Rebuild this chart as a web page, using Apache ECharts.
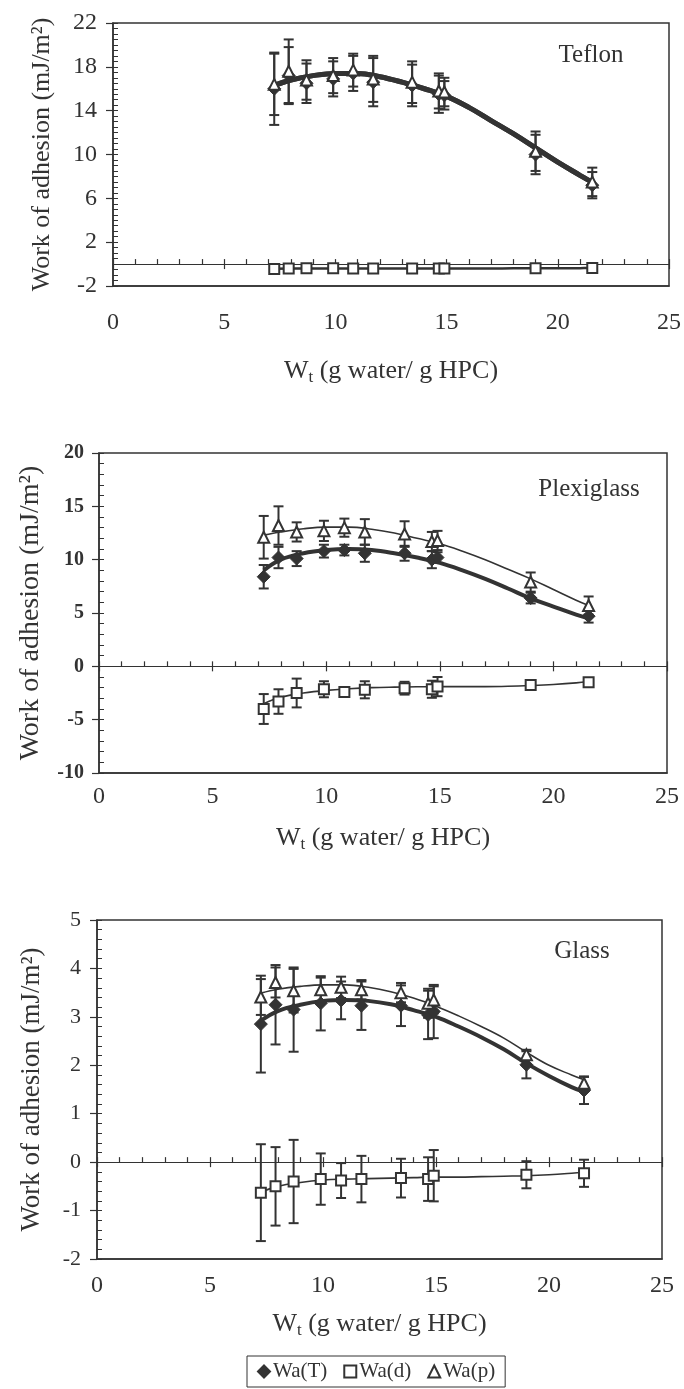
<!DOCTYPE html>
<html><head><meta charset="utf-8">
<script src="https://cdn.jsdelivr.net/npm/echarts@6/dist/echarts.min.js"></script>
<style>html,body{margin:0;padding:0;background:#fff}#c{width:684px;height:1389px}</style>
</head><body><div id="c"></div>
<script>
// ---- data ----
const wt = [7.25, 7.9, 8.7, 9.9, 10.8, 11.7, 13.45, 14.65, 14.9, 19.0, 21.55];
const fitX = [7.25, 8, 9, 10, 11, 12, 13, 14, 15, 16, 17, 18, 19, 20, 21, 21.55];
const xTicks = [0, 5, 10, 15, 20, 25];

// Teflon
const teflonT    = [16.0, 17.2, 16.5, 16.9, 17.4, 16.6, 16.3, 15.5, 15.4, 10.0, 7.2];
const teflonTErr = [3.3, 2.6, 1.8, 1.6, 1.6, 2.2, 1.9, 1.7, 1.3, 1.8, 1.2];
const teflonD    = [-0.45, -0.4, -0.38, -0.38, -0.4, -0.4, -0.4, -0.4, -0.4, -0.38, -0.35];
const teflonDErr = [0.15, 0.1, 0.1, 0.1, 0.1, 0.1, 0.1, 0.1, 0.1, 0.1, 0.1];
const teflonP    = [16.4, 17.6, 16.8, 17.2, 17.7, 16.9, 16.6, 15.8, 15.7, 10.3, 7.5];
const teflonPErr = [2.8, 2.9, 1.8, 1.6, 1.5, 2.1, 1.9, 1.6, 1.3, 1.8, 1.3];
const teflonFitT = [16.3, 16.8, 17.2, 17.4, 17.4, 17.1, 16.6, 16.0, 15.3, 14.3, 13.1, 11.9, 10.6, 9.3, 8.1, 7.45];
const teflonFitP = [16.3, 16.8, 17.2, 17.4, 17.4, 17.1, 16.6, 16.0, 15.3, 14.3, 13.1, 11.9, 10.6, 9.3, 8.1, 7.45];
const teflonFitD = [-0.42, -0.4, -0.4, -0.4, -0.4, -0.4, -0.4, -0.4, -0.4, -0.4, -0.4, -0.39, -0.38, -0.38, -0.37, -0.36];
const teflonYTicks = [-2, 2, 6, 10, 14, 18, 22];

// Plexiglass
const plexT    = [8.4, 10.2, 10.1, 10.8, 10.9, 10.6, 10.6, 10.0, 10.2, 6.4, 4.7];
const plexTErr = [1.1, 1.0, 0.7, 0.6, 0.5, 0.8, 0.7, 0.8, 0.5, 0.5, 0.6];
const plexD    = [-4.0, -3.3, -2.5, -2.15, -2.4, -2.2, -2.05, -2.15, -1.9, -1.75, -1.5];
const plexDErr = [1.4, 1.15, 1.35, 0.75, 0.4, 0.8, 0.6, 0.8, 0.9, 0.2, 0.3];
const plexP    = [12.1, 13.2, 12.6, 12.7, 13.0, 12.6, 12.4, 11.7, 11.8, 7.9, 5.7];
const plexPErr = [2.0, 1.8, 0.9, 0.95, 0.85, 1.2, 1.2, 0.9, 0.9, 0.9, 0.85];
const plexFitT = [9.0, 10.0, 10.6, 10.9, 11.0, 10.9, 10.6, 10.2, 9.7, 9.0, 8.2, 7.3, 6.37, 5.6, 4.85, 4.5];
const plexFitP = [12.3, 12.6, 12.9, 13.05, 13.05, 12.85, 12.5, 12.0, 11.5, 10.8, 10.0, 9.1, 8.2, 7.2, 6.2, 5.7];
const plexFitD = [-3.5, -2.9, -2.5, -2.25, -2.1, -2.0, -1.95, -1.92, -1.9, -1.9, -1.9, -1.87, -1.8, -1.7, -1.55, -1.42];
const plexYTicks = [-10, -5, 0, 5, 10, 15, 20];

// Glass
const glassT    = [2.85, 3.25, 3.15, 3.28, 3.34, 3.23, 3.23, 3.04, 3.11, 2.01, 1.48];
const glassTErr = [1.0, 0.82, 0.87, 0.56, 0.39, 0.5, 0.42, 0.5, 0.55, 0.28, 0.28];
const glassD    = [-0.63, -0.5, -0.4, -0.35, -0.38, -0.35, -0.33, -0.35, -0.28, -0.26, -0.23];
const glassDErr = [1.0, 0.81, 0.86, 0.53, 0.36, 0.48, 0.4, 0.45, 0.53, 0.28, 0.28];
const glassP    = [3.41, 3.71, 3.54, 3.56, 3.61, 3.56, 3.5, 3.28, 3.35, 2.22, 1.63];
const glassPErr = [0.37, 0.31, 0.45, 0.25, 0.22, 0.2, 0.2, 0.3, 0.28, 0.1, 0.14];
const glassFitT = [2.92, 3.12, 3.25, 3.33, 3.35, 3.33, 3.26, 3.14, 3.0, 2.8, 2.58, 2.33, 2.04, 1.78, 1.55, 1.45];
const glassFitP = [3.49, 3.57, 3.63, 3.66, 3.66, 3.61, 3.52, 3.39, 3.22, 3.02, 2.8, 2.56, 2.27, 2.0, 1.8, 1.7];
const glassFitD = [-0.62, -0.5, -0.42, -0.37, -0.35, -0.34, -0.33, -0.32, -0.31, -0.31, -0.3, -0.29, -0.28, -0.26, -0.23, -0.21];
const glassYTicks = [-2, -1, 0, 1, 2, 3, 4, 5];

const seriesNames = ['Wa(T)', 'Wa(d)', 'Wa(p)'];
const yTitle = 'Work of adhesion (mJ/m²)';
const xTitleParts = ['W', 't', ' (g water/ g HPC)'];

// ---- styling / layout ----
const FONT = '"Liberation Serif","Times New Roman",serif';
const INK = '#333';

const panels = [
  { tag: 'Teflon', T: teflonT, TE: teflonTErr, D: teflonD, DE: teflonDErr, P: teflonP, PE: teflonPErr,
    fT: teflonFitT, fD: teflonFitD, fP: teflonFitP, yMin: -2, yMax: 22, yTicks: teflonYTicks, minor: 0.5,
    grid: { left: 113, top: 23, width: 557, height: 263 }, yLab: 24, yWeight: 'normal', yLabMargin: 16,
    yTitleSize: 26, yTitleGap: 58, xLabMargin: 25, xTitleGap: 70, thick: 5, tagPos: [591, 55] },
  { tag: 'Plexiglass', T: plexT, TE: plexTErr, D: plexD, DE: plexDErr, P: plexP, PE: plexPErr,
    fT: plexFitT, fD: plexFitD, fP: plexFitP, yMin: -10, yMax: 20, yTicks: plexYTicks, minor: 1,
    grid: { left: 99, top: 453, width: 568, height: 320 }, yLab: 20, yWeight: 'bold', yLabMargin: 15,
    yTitleSize: 28, yTitleGap: 54, xLabMargin: 12, xTitleGap: 50, thick: 4, tagPos: [589, 489] },
  { tag: 'Glass', T: glassT, TE: glassTErr, D: glassD, DE: glassDErr, P: glassP, PE: glassPErr,
    fT: glassFitT, fD: glassFitD, fP: glassFitP, yMin: -2, yMax: 5, yTicks: glassYTicks, minor: 0.2,
    grid: { left: 97, top: 920, width: 565, height: 339 }, yLab: 22, yWeight: 'normal', yLabMargin: 16,
    yTitleSize: 27, yTitleGap: 52, xLabMargin: 15, xTitleGap: 50, thick: 4, tagPos: [582, 951] }
];

function errRender(params, api) {
  const x = api.value(0), lo = api.value(1), hi = api.value(2);
  const a = api.coord([x, hi]), b = api.coord([x, lo]);
  const w = 5;
  const style = { stroke: INK, lineWidth: 2 };
  return { type: 'group', children: [
    { type: 'line', shape: { x1: a[0], y1: a[1], x2: b[0], y2: b[1] }, style: style },
    { type: 'line', shape: { x1: a[0] - w, y1: a[1], x2: a[0] + w, y2: a[1] }, style: style },
    { type: 'line', shape: { x1: b[0] - w, y1: b[1], x2: b[0] + w, y2: b[1] }, style: style }
  ]};
}

const grids = [], xAxes = [], yAxes = [], series = [], graphics = [];
panels.forEach(function (p, i) {
  grids.push(Object.assign({ show: true, borderColor: INK, borderWidth: 1.5, backgroundColor: '#fff' }, p.grid));
  const xi = xAxes.length, yi = yAxes.length;
  // labelled bottom x axis (box bottom)
  xAxes.push({ type: 'value', gridIndex: i, min: 0, max: 25, position: 'bottom',
    axisLine: { onZero: false, lineStyle: { color: INK, width: 1.5 } },
    axisTick: { show: false }, splitLine: { show: false },
    axisLabel: { customValues: xTicks, fontFamily: FONT, fontSize: 24, color: INK, margin: p.xLabMargin },
    name: '{a|' + xTitleParts[0] + '}{b|' + xTitleParts[1] + '}{a|' + xTitleParts[2] + '}',
    nameLocation: 'middle', nameGap: p.xTitleGap,
    nameTextStyle: { rich: {
      a: { fontFamily: FONT, fontSize: 26, color: INK, lineHeight: 30 },
      b: { fontFamily: FONT, fontSize: 17, color: INK, lineHeight: 18, verticalAlign: 'bottom' } } } });
  // zero line with minor ticks
  xAxes.push({ type: 'value', gridIndex: i, min: 0, max: 25, interval: 1, position: 'bottom',
    axisLine: { onZero: true, lineStyle: { color: INK, width: 1.2 } },
    axisTick: { inside: true, length: 5, lineStyle: { color: INK, width: 1.2 } },
    axisLabel: { show: false }, splitLine: { show: false } });
  // zero line major ticks (downward part)
  xAxes.push({ type: 'value', gridIndex: i, min: 0, max: 25, interval: 5, position: 'bottom',
    axisLine: { onZero: true, show: false },
    axisTick: { inside: false, length: 5, lineStyle: { color: INK, width: 1.2 } },
    axisLabel: { show: false }, splitLine: { show: false } });
  // main y axis
  yAxes.push({ type: 'value', gridIndex: i, min: p.yMin, max: p.yMax, position: 'left',
    axisLine: { onZero: false, lineStyle: { color: INK, width: 1.5 } },
    axisTick: { inside: false, length: 7, customValues: p.yTicks, lineStyle: { color: INK, width: 1.2 } },
    axisLabel: { customValues: p.yTicks, fontFamily: FONT, fontSize: p.yLab, fontWeight: p.yWeight, color: INK, margin: p.yLabMargin },
    splitLine: { show: false },
    name: yTitle, nameLocation: 'middle', nameGap: p.yTitleGap,
    nameTextStyle: { fontFamily: FONT, fontSize: p.yTitleSize, color: INK } });
  // minor inside ticks
  yAxes.push({ type: 'value', gridIndex: i, min: p.yMin, max: p.yMax, interval: p.minor, position: 'left',
    axisLine: { show: false, onZero: false },
    axisTick: { inside: true, length: 5, lineStyle: { color: INK, width: 1 } },
    axisLabel: { show: false }, splitLine: { show: false } });

  const fit = function (ys) { return fitX.map(function (x, k) { return [x, ys[k]]; }); };
  const pts = function (ys) { return wt.map(function (x, k) { return [x, ys[k]]; }); };
  const errs = function (ys, es) { return wt.map(function (x, k) { return [x, ys[k] - es[k], ys[k] + es[k]]; }); };

  // trend lines
  series.push({ type: 'line', name: 'fitT' + i, xAxisIndex: xi, yAxisIndex: yi, data: fit(p.fT), smooth: 0.4,
    showSymbol: false, lineStyle: { color: INK, width: p.thick }, z: 2, silent: true });
  series.push({ type: 'line', name: 'fitD' + i, xAxisIndex: xi, yAxisIndex: yi, data: fit(p.fD), smooth: 0.4,
    showSymbol: false, lineStyle: { color: INK, width: i === 0 ? 2.5 : 1.6 }, z: 2, silent: true });
  series.push({ type: 'line', name: 'fitP' + i, xAxisIndex: xi, yAxisIndex: yi, data: fit(p.fP), smooth: 0.4,
    showSymbol: false, lineStyle: { color: INK, width: i === 0 ? p.thick : 1.6 }, z: 2, silent: true });
  // error bars
  [[p.T, p.TE], [p.D, p.DE], [p.P, p.PE]].forEach(function (pair, k) {
    series.push({ type: 'custom', name: 'err' + k + '_' + i, xAxisIndex: xi, yAxisIndex: yi,
      renderItem: errRender, encode: { x: 0, y: [1, 2] }, data: errs(pair[0], pair[1]), z: 3, silent: true });
  });
  // markers
  series.push({ type: 'scatter', name: seriesNames[0], xAxisIndex: xi, yAxisIndex: yi, data: pts(p.T),
    symbol: 'diamond', symbolSize: 13, itemStyle: { color: INK, borderColor: INK, borderWidth: 1, opacity: 1 }, z: 4 });
  series.push({ type: 'scatter', name: seriesNames[1], xAxisIndex: xi, yAxisIndex: yi, data: pts(p.D),
    symbol: 'rect', symbolSize: 10, itemStyle: { color: '#fff', borderColor: INK, borderWidth: 2, opacity: 1 }, z: 4 });
  series.push({ type: 'scatter', name: seriesNames[2], xAxisIndex: xi, yAxisIndex: yi, data: pts(p.P),
    symbol: 'triangle', symbolSize: 11, itemStyle: { color: '#fff', borderColor: INK, borderWidth: 2, opacity: 1 }, z: 5 });

  graphics.push({ type: 'text', x: p.tagPos[0], y: p.tagPos[1], z: 10,
    style: { text: p.tag, fontFamily: FONT, fontSize: 25, fill: INK, align: 'center', verticalAlign: 'middle' } });
});

const chart = echarts.init(document.getElementById('c'), null, { renderer: 'canvas' });
chart.setOption({
  backgroundColor: '#fff',
  animation: false,
  grid: grids, xAxis: xAxes, yAxis: yAxes, series: series, graphic: graphics,
  legend: { left: 247, top: 1356, padding: [5, 10], itemGap: 16, itemWidth: 12, itemHeight: 12,
    borderColor: INK, borderWidth: 1, backgroundColor: '#fff',
    data: [{ name: seriesNames[0], icon: 'diamond' }, { name: seriesNames[1], icon: 'rect' }, { name: seriesNames[2], icon: 'triangle' }],
    textStyle: { fontFamily: FONT, fontSize: 21, color: INK, padding: [0, 0, 0, -2] } }
});
</script>
</body></html>
